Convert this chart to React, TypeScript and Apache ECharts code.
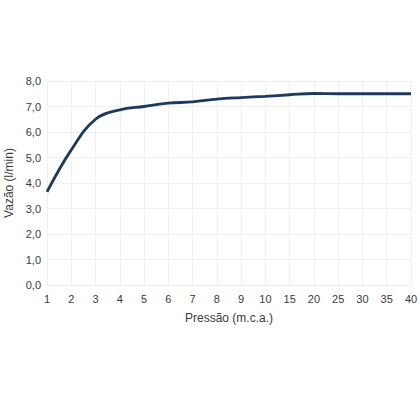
import { useEffect, useRef } from 'react'
import * as echarts from 'echarts'

// pressão (m.c.a.) e vazão (l/min)
const pressures = ['1', '2', '3', '4', '5', '6', '7', '8', '9', '10', '15', '20', '25', '30', '35', '40']
const flows = [3.65, 5.3, 6.5, 6.87, 7.0, 7.13, 7.18, 7.29, 7.35, 7.4, 7.46, 7.51, 7.5, 7.5, 7.5, 7.5]

export default function App() {
  const chartRef = useRef<HTMLDivElement>(null)

  useEffect(() => {
    if (!chartRef.current) return
    const chart = echarts.init(chartRef.current, null, { renderer: 'svg' })

    const option: echarts.EChartsOption = {
      animation: false,
      backgroundColor: '#ffffff',
      textStyle: { fontFamily: 'Liberation Sans, Arial, sans-serif' },
      grid: { left: 47, right: 9, top: 81, bottom: 135, outerBoundsMode: 'none' } as any,
      xAxis: {
        type: 'category',
        data: pressures,
        boundaryGap: false,
        name: 'Pressão (m.c.a.)',
        nameLocation: 'middle',
        nameGap: 27,
        nameTextStyle: { color: '#3a3a3a', fontSize: 12 },
        axisLine: { show: true, lineStyle: { color: '#eeeeee' } },
        axisTick: { show: false },
        axisLabel: { color: '#3a3a3a', fontSize: 11, margin: 8 },
        splitLine: { show: true, lineStyle: { color: '#f0f0f0' } }
      },
      yAxis: {
        type: 'value',
        min: 0,
        max: 8,
        interval: 1,
        name: 'Vazão (l/min)',
        nameLocation: 'middle',
        nameGap: 31,
        nameTextStyle: { color: '#3a3a3a', fontSize: 12 },
        axisLine: { show: false },
        axisTick: { show: false },
        axisLabel: {
          color: '#3a3a3a',
          fontSize: 11,
          margin: 6,
          formatter: (v: number) => v.toFixed(1).replace('.', ',')
        },
        splitLine: { show: true, lineStyle: { color: '#f0f0f0' } }
      },
      series: [
        {
          type: 'line',
          data: flows,
          smooth: 0.4,
          showSymbol: false,
          lineStyle: { color: '#1d3a5e', width: 2.8 }
        }
      ]
    }

    chart.setOption(option)
    return () => {
      chart.dispose()
    }
  }, [])

  return (
    <div
      ref={chartRef}
      style={{ position: 'fixed', left: 0, top: 0, width: 420, height: 420 }}
    />
  )
}
